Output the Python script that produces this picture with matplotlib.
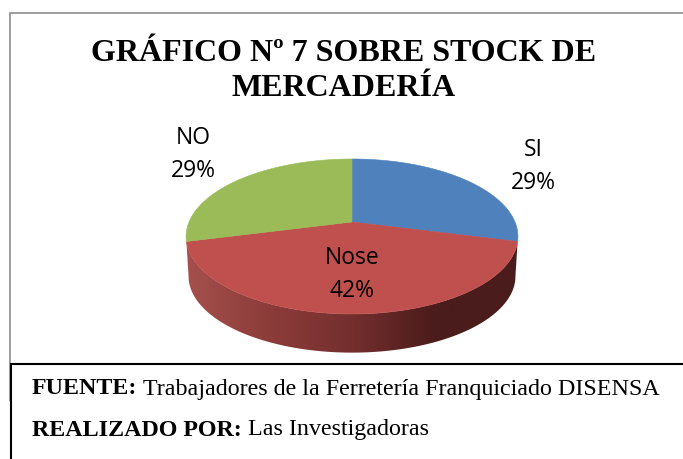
import numpy as np
import matplotlib
matplotlib.use("Agg")
import matplotlib.pyplot as plt
from matplotlib.patches import Polygon

title = "GRÁFICO Nº 7 SOBRE STOCK DE\nMERCADERÍA"
categories = ["SI", "Nose", "NO"]
values = [29, 42, 29]
colors = ["#4F81BD", "#C0504D", "#9BBB59"]
wall_stops = ["#A5504D", "#8C3C3A", "#742F2E", "#4A1C1B", "#4A1C1B"]
source_bold = "FUENTE:"
source_text = " Trabajadores de la Ferretería Franquiciado DISENSA"
author_bold = "REALIZADO POR:"
author_text = " Las Investigadoras"

fig = plt.figure(figsize=(6.83, 4.59), dpi=100)
ax = fig.add_axes([0, 0, 1, 1])
ax.set_xlim(0, 683)
ax.set_ylim(459, 0)
ax.axis("off")

# perspective view of a tilted disc
CX, CY, R, K, A = 352, 222, 163, 0.187, 74.8
DEPTH, SHRINK = 40, 0.985


def project(theta, radius=1.0, drop=0.0, scale=1.0):
    x = radius * np.cos(theta)
    y = radius * np.sin(theta)
    d = 1 + K * y
    return CX + scale * R * x / d, CY + drop - scale * A * y / d


# side wall with left to right shading, between the widest points of the rim
widest = np.arcsin(K)
t = np.linspace(np.pi + widest, 2 * np.pi - widest, 200)
tx, ty = project(t)
bx, by = project(t, drop=DEPTH, scale=SHRINK)
wall = Polygon(np.r_[np.c_[tx, ty], np.c_[bx, by][::-1]], closed=True,
               transform=ax.transData, fc="none", ec="none")
ax.add_patch(wall)
cmap = matplotlib.colors.LinearSegmentedColormap.from_list("wall", wall_stops)
im = ax.imshow(np.linspace(0, 1, 256)[None, :], cmap=cmap, aspect="auto",
               extent=(tx.min(), tx.max(), by.max() + 2, ty.min()), zorder=1)
im.set_clip_path(wall)
ax.set_xlim(0, 683)
ax.set_ylim(459, 0)

# top faces, clockwise from twelve o'clock
fractions = np.array(values) / sum(values)
edges = np.pi / 2 - 2 * np.pi * np.r_[0, np.cumsum(fractions)]
for i, color in enumerate(colors):
    arc = np.linspace(edges[i], edges[i + 1], 100)
    px, py = project(arc)
    ax.add_patch(Polygon(np.r_[[[CX, CY]], np.c_[px, py]], closed=True,
                         fc=color, ec=color, lw=0.4, zorder=2))

# labels
label_pos = [(533, 166.5), (352, 274.5), (193, 154.5)]
for cat, v, (lx, ly) in zip(categories, values, label_pos):
    ax.text(lx, ly, f"{cat}\n{v}%", ha="center", va="center", fontsize=16.5,
            family="Open Sans", color="black", linespacing=1.55, zorder=3)

ax.text(344, 71, title, ha="center", va="center", fontsize=23, weight="bold",
        family="Liberation Serif", color="black", linespacing=1.28, zorder=3)

# frames
ax.plot([9.5, 9.5, 683], [401, 12.5, 12.5], color="#8C8C8C", lw=1.2, zorder=4,
        solid_capstyle="butt", solid_joinstyle="miter")
ax.plot([10.5, 10.5, 683], [459, 363.5, 363.5], color="black", lw=1.5, zorder=5,
        solid_capstyle="butt", solid_joinstyle="miter")

# footer
fig.canvas.draw()
renderer = fig.canvas.get_renderer()
for y, bold, text in [(389, source_bold, source_text), (430, author_bold, author_text)]:
    b = ax.text(32, y, bold, ha="left", va="center", fontsize=17.3, weight="bold",
                family="Liberation Serif", color="black", zorder=6)
    bb = b.get_window_extent(renderer)
    ax.text(bb.x1 + 6, y, text.strip(), ha="left", va="center", fontsize=17.3,
            family="Liberation Serif", color="black", zorder=6)

fig.savefig("out.png", dpi=100, facecolor="white")
